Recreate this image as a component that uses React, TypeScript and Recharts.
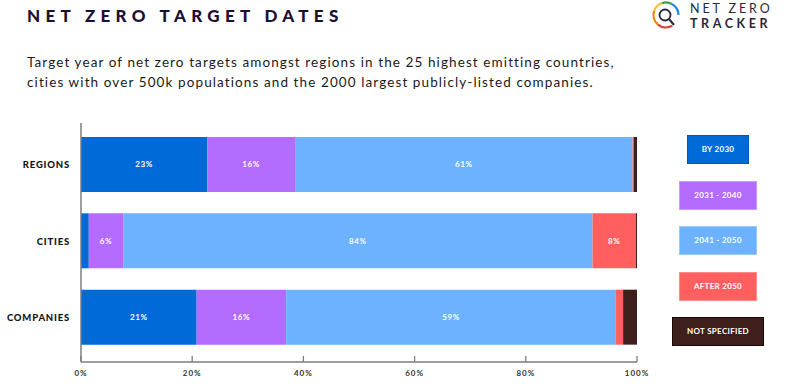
import { Bar, BarChart, LabelList, Legend, XAxis, YAxis } from "recharts";

const CATEGORIES = ["REGIONS", "CITIES", "COMPANIES"];
const BY_2030 = [22.7, 1.4, 20.8];
const Y2031_2040 = [15.8, 6.2, 16.1];
const Y2041_2050 = [60.7, 84.4, 59.3];
const AFTER_2050 = [0.2, 7.8, 1.3];
const NOT_SPECIFIED = [0.6, 0.2, 2.5];
const X_TICKS = [0, 20, 40, 60, 80, 100];

const SERIES = [
  { key: "by2030", name: "BY 2030", values: BY_2030, color: "#006ad9", border: "#0055b8" },
  { key: "y2031", name: "2031 - 2040", values: Y2031_2040, color: "#b46bff", border: "#c99aff" },
  { key: "y2041", name: "2041 - 2050", values: Y2041_2050, color: "#6cb2ff", border: "#9ccaff" },
  { key: "after", name: "AFTER 2050", values: AFTER_2050, color: "#ff5f5f", border: "#ff8a8a" },
  { key: "none", name: "NOT SPECIFIED", values: NOT_SPECIFIED, color: "#3f1f1b", border: "#1a0a08" },
];

const data = CATEGORIES.map((name, i) => {
  const row: Record<string, string | number> = { name };
  SERIES.forEach((s) => (row[s.key] = s.values[i]));
  return row;
});

const FONT = "Lato, 'Noto Sans', sans-serif";

function CategoryTick({ x, y, payload }: any) {
  return (
    <text
      x={x - 11}
      y={y}
      dy={4}
      textAnchor="end"
      fontFamily={FONT}
      fontWeight={900}
      fontSize={9.5}
      letterSpacing={0.8}
      fill="#141414"
    >
      {payload.value}
    </text>
  );
}

function PercentTick({ x, y, payload }: any) {
  return (
    <g>
      <line x1={x} x2={x} y1={y} y2={y - 6} stroke="#7d7d7d" strokeWidth={1.3} />
      <text
        x={x}
        y={y + 14}
        textAnchor="middle"
        fontFamily={FONT}
        fontWeight={700}
        fontSize={8}
        letterSpacing={1}
        fill="#333"
      >
        {payload.value}%
      </text>
    </g>
  );
}

function LegendBoxes({ payload }: any) {
  const order = (v: string) => SERIES.findIndex((s) => s.name === v);
  const items = [...(payload || [])].sort((a: any, b: any) => order(a.value) - order(b.value));
  return (
    <div style={{ display: "flex", flexDirection: "column", alignItems: "center", gap: 16.5 }}>
      {items.map((p: any) => {
        const s = SERIES[order(p.value)];
        return (
          <div
            key={p.value}
            style={{
              boxSizing: "border-box",
              height: 29,
              lineHeight: "27px",
              padding: "0 14px",
              background: p.color,
              border: `1px solid ${s ? s.border : p.color}`,
              color: "#fff",
              fontFamily: FONT,
              fontWeight: 700,
              fontSize: 8,
              letterSpacing: 0.3,
              whiteSpace: "nowrap",
            }}
          >
            {p.value}
          </div>
        );
      })}
    </div>
  );
}

function Logo() {
  const cx = 666;
  const cy = 15;
  const r = 12.5;
  const arc = (a0: number, a1: number) => {
    const p = (a: number) => [cx + r * Math.cos((a * Math.PI) / 180), cy + r * Math.sin((a * Math.PI) / 180)];
    const [x0, y0] = p(a0);
    const [x1, y1] = p(a1);
    return `M${x0},${y0} A${r},${r} 0 0 1 ${x1},${y1}`;
  };
  return (
    <svg width={788} height={40} style={{ position: "absolute", left: 0, top: 0 }}>
      <path d={arc(60, 130)} stroke="#e53935" strokeWidth={2.2} fill="none" />
      <path d={arc(130, 200)} stroke="#f57c00" strokeWidth={2.2} fill="none" />
      <path d={arc(200, 250)} stroke="#fbc02d" strokeWidth={2.2} fill="none" />
      <path d={arc(250, 300)} stroke="#43a047" strokeWidth={2.2} fill="none" />
      <path d={arc(300, 360)} stroke="#1e88e5" strokeWidth={2.2} fill="none" />
      <circle cx={cx - 1} cy={cy} r={5.5} stroke="#2b2640" strokeWidth={1.8} fill="none" />
      <line x1={cx + 3} y1={cy + 4} x2={cx + 8} y2={cy + 10} stroke="#2b2640" strokeWidth={2} />
      <text x={690} y={13} fontFamily={FONT} fontWeight={400} fontSize={12.5} letterSpacing={2.9} fill="#2b2640">
        NET ZERO
      </text>
      <text x={690} y={28} fontFamily={FONT} fontWeight={700} fontSize={12.5} letterSpacing={3.6} fill="#2b2640">
        TRACKER
      </text>
    </svg>
  );
}

export default function App() {
  return (
    <div style={{ position: "absolute", left: 0, top: 0, width: 788, height: 386, background: "#fff", overflow: "hidden" }}>
      <div
        style={{
          position: "absolute",
          left: 27,
          top: 5,
          fontFamily: FONT,
          fontWeight: 900,
          fontSize: 17,
          letterSpacing: 5.3,
          color: "#1e0f33",
          whiteSpace: "nowrap",
        }}
      >
        NET ZERO TARGET DATES
      </div>
      <div
        style={{
          position: "absolute",
          left: 27,
          top: 52,
          fontFamily: FONT,
          fontSize: 13.5,
          lineHeight: "20px",
          letterSpacing: 1.1,
          color: "#1a1a1a",
          whiteSpace: "nowrap",
        }}
      >
        Target year of net zero targets amongst regions in the 25 highest emitting countries,
        <br />
        cities with over 500k populations and the 2000 largest publicly-listed companies.
      </div>
      <Logo />
      <div style={{ position: "absolute", left: 0, top: 0 }}>
        <BarChart
          width={788}
          height={386}
          data={data}
          layout="vertical"
          margin={{ top: 123, right: 51, bottom: 0, left: 9 }}
        >
          <XAxis
            type="number"
            domain={[0, 100]}
            ticks={X_TICKS}
            interval={0}
            height={24}
            tickSize={0}
            tickMargin={0}
            tickLine={false}
            axisLine={{ stroke: "#7d7d7d", strokeWidth: 1.5 }}
            tick={<PercentTick />}
          />
          <YAxis
            type="category"
            dataKey="name"
            width={72}
            padding={{ top: 3, bottom: 7 }}
            tickSize={0}
            tickMargin={0}
            tickLine={false}
            axisLine={{ stroke: "#7d7d7d", strokeWidth: 1.5 }}
            tick={<CategoryTick />}
          />
          <Legend
            layout="vertical"
            align="right"
            verticalAlign="top"
            wrapperStyle={{ left: 668, top: 135, width: 100 }}
            content={<LegendBoxes />}
          />
          {SERIES.map((s) => (
            <Bar
              key={s.key}
              dataKey={s.key}
              name={s.name}
              stackId="a"
              fill={s.color}
              barSize={55}
              isAnimationActive={false}
            >
              <LabelList
                dataKey={s.key}
                position="center"
                fill="#fff"
                fontFamily={FONT}
                fontWeight={700}
                fontSize={8}
                letterSpacing={0.6}
                formatter={(v: any) => (Number(v) >= 5 ? `${Math.round(Number(v))}%` : "")}
              />
            </Bar>
          ))}
        </BarChart>
      </div>
    </div>
  );
}
